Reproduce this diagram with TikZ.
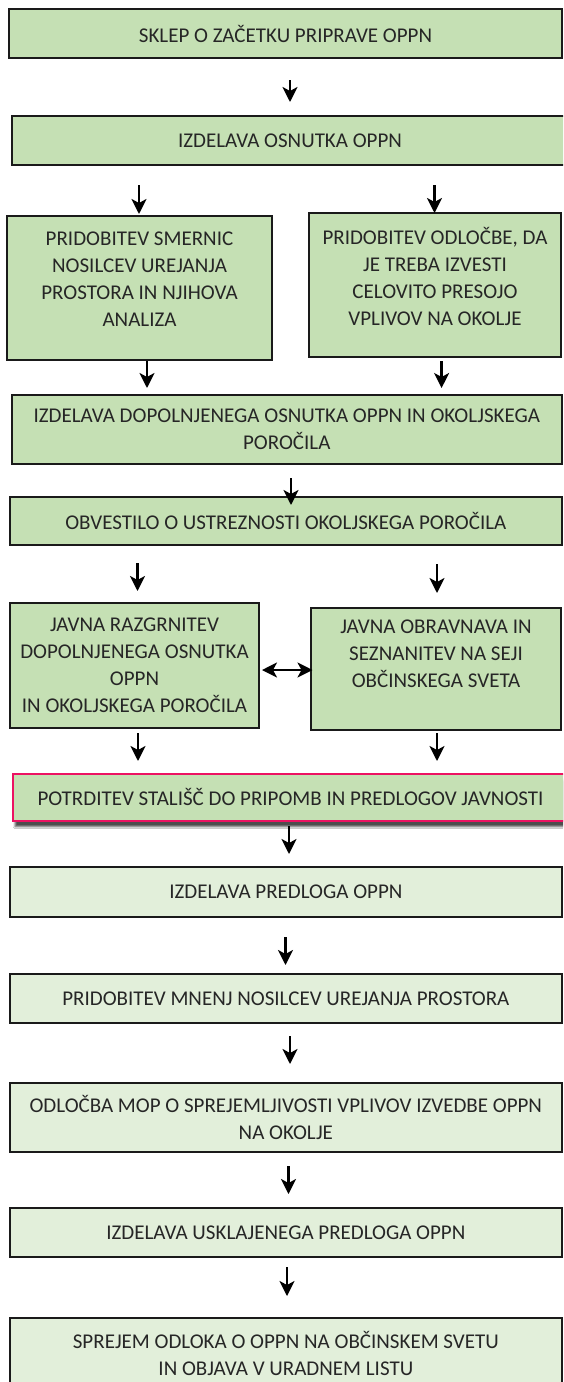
\documentclass[tikz,border=0pt]{standalone}
\usepackage{fontspec}
\setmainfont{Carlito}
\usetikzlibrary{arrows.meta,shadows.blur}
\definecolor{gA}{RGB}{197,224,180}
\definecolor{gB}{RGB}{226,239,218}
\definecolor{pinkb}{RGB}{236,18,98}
\definecolor{edgec}{RGB}{26,26,26}
\definecolor{txtc}{RGB}{38,38,38}
\begin{document}
\begin{tikzpicture}[x=1pt,y=-1pt,
  box/.style={draw=edgec,line width=2pt,fill=gA,inner sep=0pt,outer sep=0pt,align=center,text=txtc,font=\fontsize{21}{26.8}\selectfont},
  lbox/.style={box,fill=gB},
  pbox/.style={box,draw=pinkb,blur shadow={shadow xshift=2pt,shadow yshift=-6pt,shadow opacity=70,shadow blur steps=6}},
  txt/.style={inner sep=0pt,align=center,text=txtc,font=\fontsize{21}{26.8}\selectfont},
  tip/.tip={Stealth[length=15pt,width=15pt,inset=4pt]},
  arr/.style={-tip,line width=2.4pt,draw=black},
  darr/.style={tip-tip,line width=2.4pt,draw=black}]
\useasboundingbox (0,0) rectangle (563,1382);
\fill[white] (0,0) rectangle (563,1382);
\clip (0,0) rectangle (563,1382);

\node[box,minimum width=553,minimum height=49] (n1) at (285.5,33.5) {SKLEP O ZAČETKU PRIPRAVE OPPN};
\node[box,minimum width=556,minimum height=49] (n2) at (290,140.5) {IZDELAVA OSNUTKA OPPN};
\node[box,minimum width=265,minimum height=144] (n3) at (139.5,288) {};
\node[txt] (t3) at (139.5,279) {PRIDOBITEV SMERNIC\\NOSILCEV UREJANJA\\PROSTORA IN NJIHOVA\\ANALIZA};
\node[box,minimum width=252,minimum height=144] (n4) at (435,285) {};
\node[txt] (t4) at (435,276.5) {PRIDOBITEV ODLOČBE, DA\\JE TREBA IZVESTI\\CELOVITO PRESOJO\\VPLIVOV NA OKOLJE};
\node[box,minimum width=550.5,minimum height=69] (n5) at (286.75,429.5) {IZDELAVA DOPOLNJENEGA OSNUTKA OPPN IN OKOLJSKEGA\\POROČILA};
\node[box,minimum width=552.3,minimum height=48] (n6) at (285.85,521) {OBVESTILO O USTREZNOSTI OKOLJSKEGA POROČILA};
\node[box,minimum width=249.6,minimum height=125.3] (n7) at (134.5,665.35) {JAVNA RAZGRNITEV\\DOPOLNJENEGA OSNUTKA\\OPPN\\IN OKOLJSKEGA POROČILA};
\node[box,minimum width=250,minimum height=122] (n8) at (436,669) {};
\node[txt] (t8) at (436,654) {JAVNA OBRAVNAVA IN\\SEZNANITEV NA SEJI\\OBČINSKEGA SVETA};
\node[pbox,minimum width=555,minimum height=46.7] (n9) at (290.5,797.35) {POTRDITEV STALIŠČ DO PRIPOMB IN PREDLOGOV JAVNOSTI};
\node[lbox,minimum width=552.3,minimum height=50] (n10) at (285.85,892) {IZDELAVA PREDLOGA OPPN};
\node[lbox,minimum width=552.3,minimum height=49] (n11) at (285.85,998.5) {PRIDOBITEV MNENJ NOSILCEV UREJANJA PROSTORA};
\node[lbox,minimum width=552.3,minimum height=69] (n12) at (285.85,1117.5) {ODLOČBA MOP O SPREJEMLJIVOSTI VPLIVOV IZVEDBE OPPN\\NA OKOLJE};
\node[lbox,minimum width=552.3,minimum height=49] (n13) at (285.85,1232.5) {IZDELAVA USKLAJENEGA PREDLOGA OPPN};
\node[lbox,minimum width=552.3,minimum height=82] (n14) at (285.85,1359) {};
\node[txt] (t14) at (285.85,1353.5) {SPREJEM ODLOKA O OPPN NA OBČINSKEM SVETU\\IN OBJAVA V URADNEM LISTU};

% arrows
\coordinate (a1s) at (290,80);   \coordinate (a1e) at (290,102);
\coordinate (a2ls) at (139,185); \coordinate (a2le) at (139,214);
\coordinate (a2rs) at (434.5,185); \coordinate (a2re) at (434.5,213);
\coordinate (a3ls) at (147,361); \coordinate (a3le) at (147,388);
\coordinate (a3rs) at (441.6,361); \coordinate (a3re) at (441.6,388);
\coordinate (a4s) at (291,478); \coordinate (a4e) at (291,505);
\coordinate (a5ls) at (137.5,563); \coordinate (a5le) at (137.5,591);
\coordinate (a5rs) at (437,564); \coordinate (a5re) at (437,593);
\coordinate (a6ls) at (138,733); \coordinate (a6le) at (138,761);
\coordinate (a6rs) at (437,733); \coordinate (a6re) at (437,761);
\coordinate (a7s) at (289,826); \coordinate (a7e) at (289,854);
\coordinate (a8s) at (285.5,937); \coordinate (a8e) at (285.5,965);
\coordinate (a9s) at (290,1036); \coordinate (a9e) at (290,1064);
\coordinate (a10s) at (288.5,1166); \coordinate (a10e) at (288.5,1194);
\coordinate (a11s) at (287,1267); \coordinate (a11e) at (287,1296);
\coordinate (d1) at (262,670); \coordinate (d2) at (312.5,670);

\draw[arr] (a1s) -- (a1e);
\draw[arr] (a2ls) -- (a2le);
\draw[arr] (a2rs) -- (a2re);
\draw[arr] (a3ls) -- (a3le);
\draw[arr] (a3rs) -- (a3re);
\draw[arr] (a4s) -- (a4e);
\draw[arr] (a5ls) -- (a5le);
\draw[arr] (a5rs) -- (a5re);
\draw[arr] (a6ls) -- (a6le);
\draw[arr] (a6rs) -- (a6re);
\draw[arr] (a7s) -- (a7e);
\draw[arr] (a8s) -- (a8e);
\draw[arr] (a9s) -- (a9e);
\draw[arr] (a10s) -- (a10e);
\draw[arr] (a11s) -- (a11e);
\draw[darr] (d1) -- (d2);
\end{tikzpicture}
\end{document}
